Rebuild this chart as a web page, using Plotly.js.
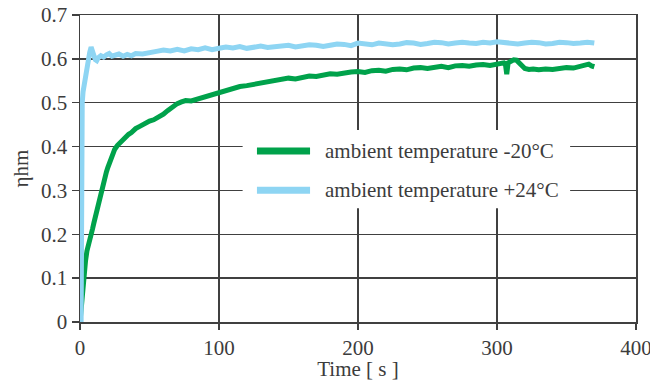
<!DOCTYPE html>
<html>
<head>
<meta charset="utf-8">
<script src="https://cdn.plot.ly/plotly-3.0.1.min.js"></script>
<style>html,body{margin:0;padding:0;background:#fff;}#chart{width:650px;height:381px;}</style>
</head>
<body>
<div id="chart"></div>
<script>
// Series names
const seriesNames = ["ambient temperature -20°C", "ambient temperature +24°C"];

// Series 1: ambient temperature -20°C (green)
const coldTime = [0, 0.5, 1, 1.5, 2, 2.5, 3, 3.5, 4, 5, 6, 7, 8, 9, 10, 11, 12, 13, 14, 15, 16, 17, 18, 19, 20, 21, 22, 23, 24, 25, 27, 29, 31, 33, 35, 37, 40, 43, 46, 50, 53, 56, 60, 63, 66, 70, 73, 76, 80, 84, 88, 92, 96, 100, 105, 110, 115, 120, 125, 130, 135, 140, 145, 150, 155, 160, 165, 170, 175, 180, 185, 190, 195, 200, 205, 210, 215, 220, 225, 230, 235, 240, 245, 250, 255, 260, 265, 270, 275, 280, 285, 290, 295, 300, 303, 305, 306, 307, 308, 310, 312, 314, 316, 318, 320, 323, 326, 330, 335, 340, 345, 350, 355, 360, 363, 366, 368, 370];
const coldValue = [0, 0.02, 0.045, 0.07, 0.095, 0.112, 0.125, 0.13, 0.14, 0.162, 0.178, 0.188, 0.198, 0.212, 0.226, 0.24, 0.255, 0.268, 0.282, 0.295, 0.31, 0.322, 0.33, 0.342, 0.352, 0.362, 0.37, 0.378, 0.387, 0.394, 0.403, 0.41, 0.416, 0.42, 0.428, 0.432, 0.441, 0.446, 0.452, 0.458, 0.461, 0.466, 0.474, 0.482, 0.49, 0.498, 0.502, 0.505, 0.504, 0.508, 0.512, 0.516, 0.52, 0.525, 0.529, 0.533, 0.537, 0.539, 0.542, 0.545, 0.548, 0.551, 0.553, 0.556, 0.554, 0.559, 0.561, 0.56, 0.564, 0.566, 0.565, 0.568, 0.57, 0.571, 0.569, 0.573, 0.574, 0.572, 0.576, 0.577, 0.575, 0.579, 0.58, 0.578, 0.581, 0.583, 0.58, 0.584, 0.585, 0.583, 0.586, 0.587, 0.585, 0.589, 0.59, 0.591, 0.589, 0.565, 0.591, 0.594, 0.598, 0.597, 0.591, 0.583, 0.578, 0.576, 0.577, 0.575, 0.577, 0.576, 0.578, 0.58, 0.579, 0.583, 0.585, 0.588, 0.584, 0.582];

// Series 2: ambient temperature +24°C (light blue)
const warmTime = [0.8, 0.9, 1.0, 1.2, 1.6, 2.2, 3, 4, 5, 6, 7, 8, 9, 10, 11, 12, 13, 15, 17, 19, 21, 23, 25, 28, 31, 34, 37, 40, 45, 50, 55, 60, 65, 70, 75, 80, 85, 90, 95, 100, 105, 110, 115, 120, 125, 130, 135, 140, 145, 150, 155, 160, 165, 170, 175, 180, 185, 190, 195, 200, 205, 210, 215, 220, 225, 230, 235, 240, 245, 250, 255, 260, 265, 270, 275, 280, 285, 290, 295, 300, 305, 310, 315, 320, 325, 330, 335, 340, 345, 350, 355, 360, 365, 370];
const warmValue = [0, 0.2, 0.35, 0.45, 0.5, 0.525, 0.542, 0.565, 0.585, 0.6, 0.615, 0.627, 0.618, 0.603, 0.598, 0.596, 0.602, 0.607, 0.604, 0.609, 0.612, 0.606, 0.609, 0.611, 0.606, 0.61, 0.607, 0.612, 0.611, 0.615, 0.617, 0.62, 0.618, 0.622, 0.618, 0.623, 0.621, 0.625, 0.621, 0.624, 0.627, 0.625, 0.628, 0.624, 0.627, 0.629, 0.626, 0.627, 0.63, 0.631, 0.627, 0.629, 0.632, 0.631, 0.628, 0.631, 0.634, 0.633, 0.63, 0.636, 0.633, 0.632, 0.636, 0.635, 0.632, 0.634, 0.637, 0.636, 0.633, 0.635, 0.638, 0.637, 0.634, 0.636, 0.638, 0.636, 0.635, 0.638, 0.636, 0.639, 0.637, 0.636, 0.634, 0.636, 0.638, 0.637, 0.634, 0.635, 0.638, 0.637, 0.635, 0.636, 0.638, 0.636];

// Axis ticks
const xTicks = [0, 100, 200, 300, 400];
const yTicks = [0, 0.1, 0.2, 0.3, 0.4, 0.5, 0.6, 0.7];

const colors = ["#00a24b", "#8ed5f3"];
const font = "'Liberation Serif', 'Times New Roman', serif";
const textColor = "#3c3c3c";
const gridColor = "#404040";
const fs = 21;

const traces = [
  {x: coldTime, y: coldValue, name: seriesNames[0], type: "scatter", mode: "lines",
   line: {color: colors[0], width: 5}, showlegend: false},
  {x: warmTime, y: warmValue, name: seriesNames[1], type: "scatter", mode: "lines",
   line: {color: colors[1], width: 5}, showlegend: false}
];

// Hand-drawn legend (long line symbols like the reference)
const legRows = [0.390, 0.3005];
const shapes = [
  {type: "rect", xref: "x", yref: "y", x0: 117, x1: 352.6, y0: 0.2595, y1: 0.4375,
   fillcolor: "#ffffff", line: {width: 0}, layer: "between"}
];
const annotations = [];
seriesNames.forEach((n, i) => {
  shapes.push({type: "line", xref: "x", yref: "y", x0: 127.3, x1: 165.5, y0: legRows[i], y1: legRows[i],
    line: {color: colors[i], width: 7}, layer: "above"});
  annotations.push({xref: "x", yref: "y", x: 174.5, y: legRows[i], text: n, showarrow: false,
    xanchor: "left", yanchor: "middle", font: {family: font, size: fs, color: textColor}});
});

const layout = {
  width: 650, height: 381,
  margin: {l: 80, r: 14, t: 15, b: 59},
  paper_bgcolor: "#ffffff", plot_bgcolor: "#ffffff",
  font: {family: font, size: fs, color: textColor},
  showlegend: false,
  xaxis: {
    range: [0, 400], tickvals: xTicks, ticktext: xTicks.map(String),
    showgrid: true, gridcolor: gridColor, gridwidth: 1.5, zeroline: false,
    showline: true, mirror: true, linecolor: gridColor, linewidth: 1.5,
    ticks: "outside", ticklen: 6, tickwidth: 1.5, tickcolor: gridColor,
    ticklabeloverflow: "allow",
    tickfont: {family: font, size: fs, color: textColor},
    title: {text: "Time [ s ]", font: {family: font, size: fs, color: textColor}, standoff: 6}
  },
  yaxis: {
    range: [0, 0.7], tickvals: yTicks, ticktext: yTicks.map(String),
    showgrid: true, gridcolor: gridColor, gridwidth: 1.5, zeroline: false,
    showline: true, mirror: true, linecolor: gridColor, linewidth: 1.5,
    ticks: "outside", ticklen: 7, tickwidth: 1.5, tickcolor: gridColor,
    tickfont: {family: font, size: fs, color: textColor},
    title: {text: "ηhm", font: {family: font, size: fs, color: textColor}, standoff: 6}
  },
  shapes: shapes,
  annotations: annotations
};

Plotly.newPlot("chart", traces, layout, {displayModeBar: false, staticPlot: true});
</script>
</body>
</html>
